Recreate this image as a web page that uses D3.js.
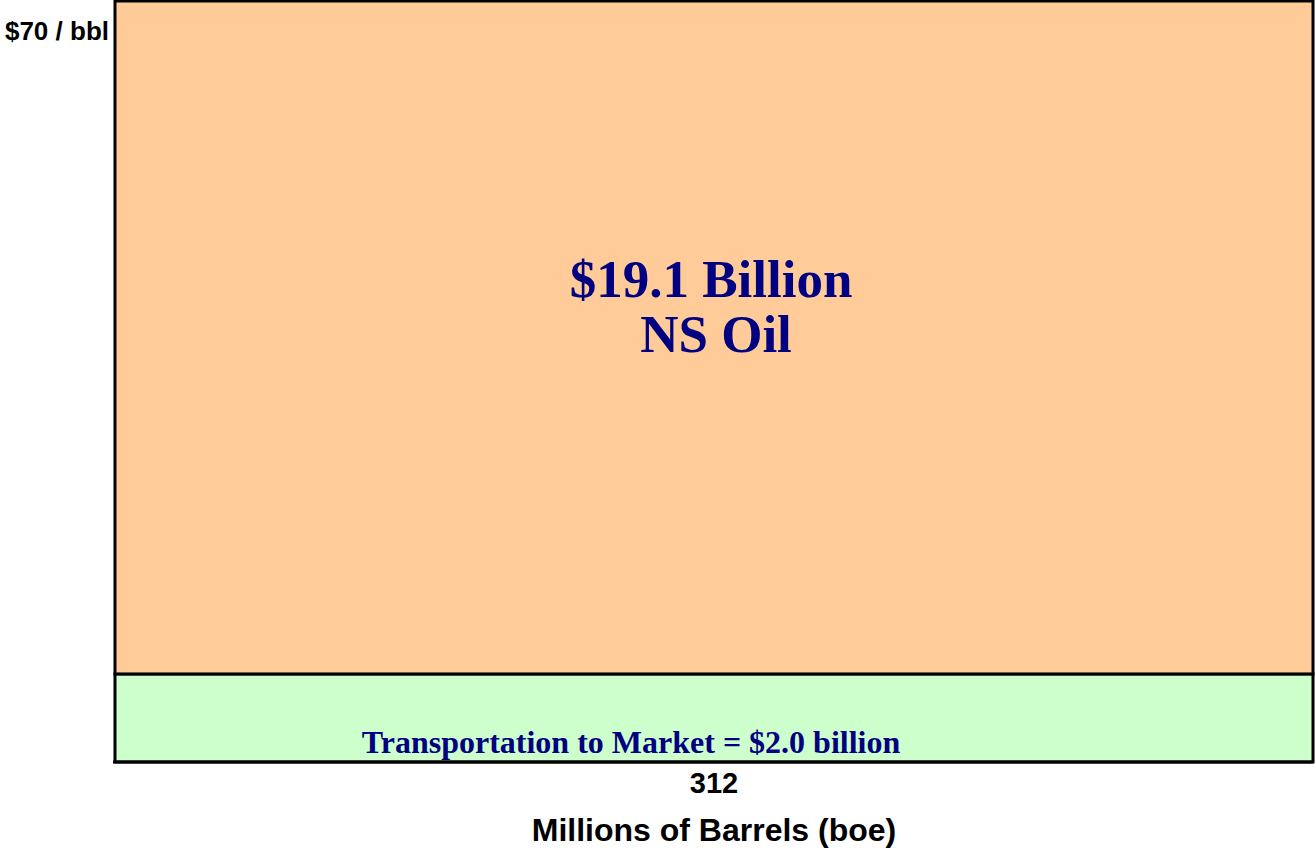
<!DOCTYPE html>
<html>
<head>
<meta charset="utf-8">
<script src="https://cdn.jsdelivr.net/npm/d3@7"></script>
<style>
  body { margin: 0; background: #fff; }
  svg { display: block; }
</style>
</head>
<body>
<svg id="chart" width="1315" height="849"></svg>
<script>
// values
const categories = ["Transportation to Market", "NS Oil"]
const perBarrel = [8.1, 61.9]          // $ per bbl, stacked
const fills = ["#CCFFCC", "#FFCC99"]
const volumeLabel = ["312"]             // millions of barrels
const priceTop = 70
const valueLabels = ["Transportation to Market = $2.0 billion", "$19.1 Billion", "NS Oil"]

const drawChart = () => {
    let svg = d3.select("#chart"),
        left = 115, right = 1313, top = 1, bottom = 762

    let x = d3.scaleBand()
        .domain(volumeLabel)
        .range([left, right])
        .padding(0)

    let y = d3.scaleLinear()
        .domain([0, priceTop])
        .range([bottom, top])

    // stack the per-barrel costs
    let acc = 0
    let segs = perBarrel.map((v, i) => {
        let s = {name: categories[i], y0: acc, y1: acc + v, fill: fills[i]}
        acc += v
        return s
    })

    svg.append("g")
        .selectAll("rect")
        .data(segs)
        .enter()
        .append("rect")
        .attr("x", x(volumeLabel[0]))
        .attr("width", x.bandwidth())
        .attr("y", d => y(d.y1))
        .attr("height", d => y(d.y0) - y(d.y1))
        .attr("fill", d => d.fill)
        .attr("stroke", "#000")
        .attr("stroke-width", 3)

    // bottom axis with the single volume label
    let xAxis = svg.append("g")
        .attr("transform", `translate(0,${bottom})`)
        .call(d3.axisBottom(x).tickSize(0).tickPadding(10))
    xAxis.select(".domain")
        .attr("stroke", "#000")
        .attr("stroke-width", 3)
        .attr("d", `M${left - 2},0H${right}`)
    xAxis.selectAll("text")
        .attr("font-family", "Liberation Sans, Arial, sans-serif")
        .attr("font-weight", "bold")
        .attr("font-size", 29)
        .attr("fill", "#000")
        .attr("dy", "0.73em")

    svg.append("text")
        .attr("x", (left + right) / 2)
        .attr("y", 841)
        .attr("text-anchor", "middle")
        .attr("font-family", "Liberation Sans, Arial, sans-serif")
        .attr("font-weight", "bold")
        .attr("font-size", 32)
        .text("Millions of Barrels (boe)")

    svg.append("text")
        .attr("x", left - 6)
        .attr("y", y(priceTop) + 39)
        .attr("text-anchor", "end")
        .attr("font-family", "Liberation Sans, Arial, sans-serif")
        .attr("font-weight", "bold")
        .attr("font-size", 26)
        .text(`$${priceTop} / bbl`)

    // labels inside the blocks
    svg.append("text")
        .attr("x", 631)
        .attr("y", 753)
        .attr("text-anchor", "middle")
        .attr("font-family", "Liberation Serif, Times New Roman, serif")
        .attr("font-weight", "bold")
        .attr("font-size", 32)
        .attr("fill", "#000080")
        .text(valueLabels[0])

    svg.append("text")
        .attr("x", (left + right) / 2 - 3)
        .attr("y", 297)
        .attr("text-anchor", "middle")
        .attr("font-family", "Liberation Serif, Times New Roman, serif")
        .attr("font-weight", "bold")
        .attr("font-size", 53)
        .attr("fill", "#000080")
        .text(valueLabels[1])

    svg.append("text")
        .attr("x", (left + right) / 2 + 2)
        .attr("y", 352)
        .attr("text-anchor", "middle")
        .attr("font-family", "Liberation Serif, Times New Roman, serif")
        .attr("font-weight", "bold")
        .attr("font-size", 53)
        .attr("fill", "#000080")
        .text(valueLabels[2])
}

drawChart()
</script>
</body>
</html>
